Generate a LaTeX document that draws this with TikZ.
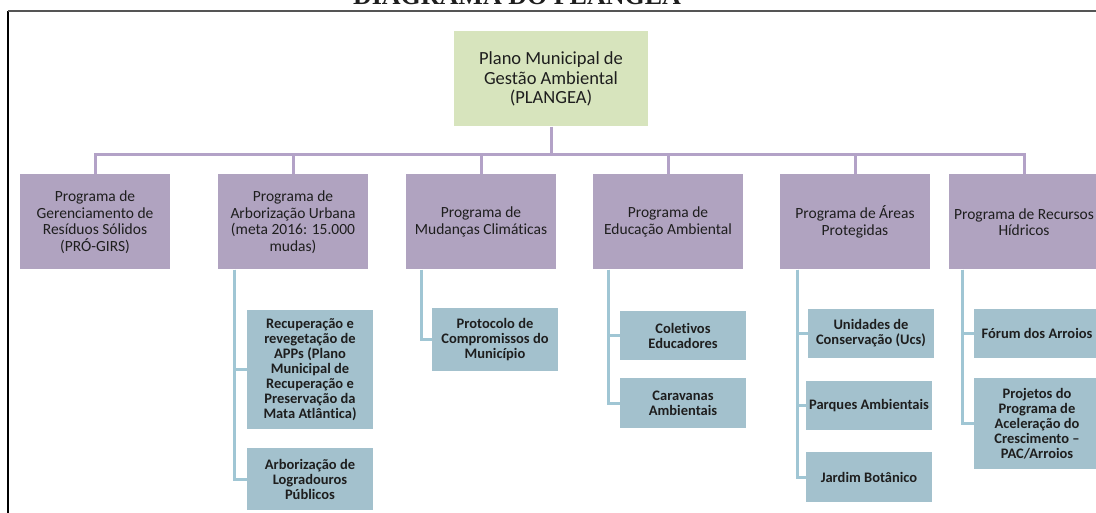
\documentclass[tikz,border=0pt]{standalone}
\usepackage{fontspec}
\setmainfont{Carlito}[Ligatures=NoCommon]
\newfontfamily\titlefont{Liberation Serif}
\definecolor{plangreen}{RGB}{215,228,189}
\definecolor{progfill}{RGB}{176,163,192}
\definecolor{progline}{RGB}{179,162,199}
\definecolor{subfill}{RGB}{163,193,205}
\definecolor{subline}{RGB}{160,198,212}
\definecolor{textgray}{RGB}{30,30,30}
\definecolor{framegray}{RGB}{85,85,85}

\begin{document}
\begin{tikzpicture}[x=1pt,y=-1pt]
\tikzstyle{every node}+=[inner sep=0pt, text=textgray, align=center]
\tikzstyle{topbox}=[fill=plangreen, minimum width=194pt, minimum height=95pt, font=\fontsize{18.5}{19.5}\selectfont]
\tikzstyle{progbox}=[fill=progfill, minimum width=150pt, minimum height=95pt, font=\fontsize{15.5}{16.5}\selectfont]
\tikzstyle{subbox}=[fill=subfill, minimum width=126pt, font=\bfseries\fontsize{14.5}{15}\selectfont]
\tikzstyle{progwire}=[progline, line width=3pt]
\tikzstyle{subwire}=[subline, line width=3pt]
\useasboundingbox (0,0) rectangle (1096,513);
\node[anchor=base, font=\titlefont\bfseries\fontsize{26}{30}\selectfont] (title) at (517,5) {DIAGRAMA DO PLANGEA};
\draw [black, line width=1.5pt] (8,11) -- (8,513);
\draw [framegray, line width=2pt] (8,11) -- (1096,11);
\node[topbox] (plangea) at (551,79) {Plano Municipal de\\Gestão Ambiental\\(PLANGEA)};
\coordinate (bus) at (551,155);
\node[progbox] (residuos) at (95,222) {Programa de\\Gerenciamento de\\Resíduos Sólidos\\(PRÓ-GIRS)};
\node[progbox] (arbor) at (293,222) {Programa de\\Arborização Urbana\\(meta 2016: 15.000\\mudas)};
\node[progbox] (clima) at (481,222) {Programa de\\Mudanças Climáticas};
\node[progbox] (educ) at (668,222) {Programa de\\Educação Ambiental};
\node[progbox] (areas) at (855,222) {Programa de Áreas\\Protegidas};
\node[progbox] (hidricos) at (1024,222) {Programa de Recursos\\Hídricos};
\node[subbox, minimum height=119pt] (recup) at (310,369.5) {Recuperação e\\revegetação de\\APPs (Plano\\Municipal de\\Recuperação e\\Preservação da\\Mata Atlântica)};
\node[subbox, minimum height=62pt] (lograd) at (310,479) {Arborização de\\Logradouros\\Públicos};
\node[subbox, minimum height=63pt] (protocolo) at (495,339.5) {Protocolo de\\Compromissos do\\Município};
\node[subbox, minimum height=49pt] (coletivos) at (683,335.5) {Coletivos\\Educadores};
\node[subbox, minimum height=50pt] (caravanas) at (683,403) {Caravanas\\Ambientais};
\node[subbox, minimum height=49pt] (unidades) at (871,333.5) {Unidades de\\Conservação (Ucs)};
\node[subbox, minimum height=49pt] (parques) at (869,405.5) {Parques Ambientais};
\node[subbox, minimum height=50pt] (jardim) at (869,477) {Jardim Botânico};
\node[subbox, minimum height=49pt] (forum) at (1037,333.5) {Fórum dos Arroios};
\node[subbox, minimum height=91pt] (projetos) at (1037,423.5) {Projetos do\\Programa de\\Aceleração do\\Crescimento –\\PAC/Arroios};
\draw [progwire] (plangea.south) -- (bus);
\foreach \p in {residuos,arbor,clima,educ,areas,hidricos}
  \draw [progwire] (\p.north) |- (bus);
\draw [subwire] ([xshift=17pt]arbor.south west) |- (recup.west);
\draw [subwire] ([xshift=17pt]arbor.south west) |- (lograd.west);
\draw [subwire] ([xshift=16pt]clima.south west) |- (protocolo.west);
\draw [subwire] ([xshift=16pt]educ.south west) |- (coletivos.west);
\draw [subwire] ([xshift=16pt]educ.south west) |- (caravanas.west);
\draw [subwire] ([xshift=18pt]areas.south west) |- (unidades.west);
\draw [subwire] ([xshift=18pt]areas.south west) |- (parques.west);
\draw [subwire] ([xshift=18pt]areas.south west) |- (jardim.west);
\draw [subwire] ([xshift=14pt]hidricos.south west) |- (forum.west);
\draw [subwire] ([xshift=14pt]hidricos.south west) |- (projetos.west);
\end{tikzpicture}
\end{document}
